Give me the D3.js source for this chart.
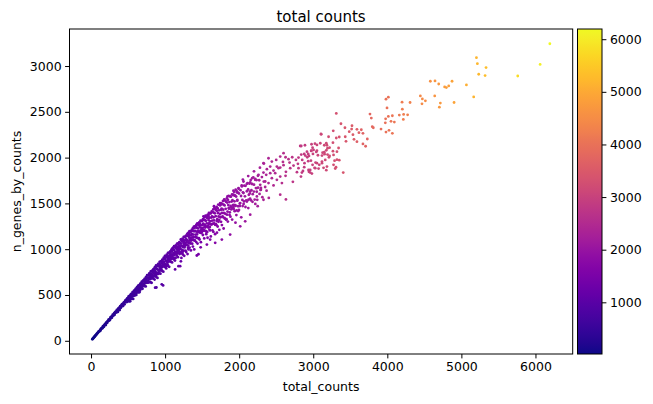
<!DOCTYPE html>
<html><head><meta charset="utf-8">
<script src="https://cdn.jsdelivr.net/npm/d3@7"></script>
<style>body{margin:0;background:#fff}svg{display:block}</style>
</head><body><svg id="c" width="653" height="404"></svg>
<script>
const title = "total counts";
const xLabel = "total_counts";
const yLabel = "n_genes_by_counts";
const xTicks = [0,1000,2000,3000,4000,5000,6000];
const yTicks = [0,500,1000,1500,2000,2500,3000];
const cbTicks = [1000,2000,3000,4000,5000,6000];

// [total_counts, n_genes_by_counts]
const cellsLow = [[18,17],[24,23],[29,27],[35,34],[41,39],[47,45],[52,50],[58,55],[64,62],[71,67],[77,74],[83,79],[89,86],[95,90],
[103,102],[109,103],[116,105],[122,118],[128,113],[135,133],[141,131],[148,142],[154,138],[161,159],[167,158],[174,152],[180,174],[187,173],[193,185],[199,172],
[204,199],[210,199],[217,195],[223,214],[229,213],[236,231],[242,221],[249,235],[255,227],[262,254],[268,246],[274,264],[281,252],[287,268],[293,284],[299,280],
[305,278],[311,298],[318,283],[324,313],[330,305],[337,319],[343,310],[349,337],[356,333],[362,315],[368,351],[375,343],[381,360],[387,335],[394,377],[399,373],[315,298],[334,315],[352,334],[371,351],[390,367],
[403,360],[408,385],[413,380],[418,401],[423,380],[428,397],[433,381],[438,415],[443,401],[448,423],[453,398],[458,420],[463,440],[468,431],[473,424],[478,449],[483,423],[488,464],[493,447],[498,463],
[502,444],[507,484],[511,471],[516,441],[520,489],[525,473],[529,493],[534,453],[538,508],[543,501],[547,482],[552,515],[556,503],[561,532],[565,499],[570,521],[574,495],[579,544],[583,520],[588,549],[592,516],[597,542]];

const cellsMid = [[601,566],[605,550],[609,538],[613,571],[617,531],[621,586],[625,560],[629,580],[633,554],[637,603],[641,585],[645,545],[649,606],[653,580],[657,608],[661,548],[665,625],[669,612],[673,583],[677,627],[681,611],[685,646],[689,603],[693,629],[697,595],
[702,656],[706,622],[710,660],[714,612],[718,646],[722,675],[726,656],[730,639],[734,679],[738,630],[742,696],[746,663],[750,687],[754,649],[758,716],[762,690],[766,634],[770,715],[774,681],[778,715],[782,640],[786,735],[790,718],[794,680],[798,734],
[802,712],[806,757],[810,700],[814,732],[818,687],[822,762],[826,721],[830,765],[834,708],[838,747],[842,781],[846,757],[850,737],[854,784],[858,721],[862,804],[866,761],[870,790],[874,747],[878,822],[882,791],[886,728],[890,819],[894,781],[898,818],
[902,729],[906,840],[910,819],[914,774],[918,837],[922,812],[926,861],[930,797],[934,833],[938,781],[942,866],[946,819],[950,869],[954,800],[958,846],[962,886],[966,857],[970,832],[974,887],[978,816],[982,908],[986,860],[990,892],[994,843],[998,927],
[1002,892],[1005,814],[1009,922],[1012,875],[1015,917],[1019,815],[1022,940],[1025,915],[1029,864],[1032,933],[1035,903],[1039,959],[1042,884],[1045,924],[1049,865],[1052,960],[1055,905],[1059,960],[1062,885],[1065,933],[1069,976],[1072,943],[1075,916],[1079,974],[1082,896],[1085,994],[1089,942],[1092,975],[1095,922],[1099,1010],
[1102,994],[1105,908],[1109,1016],[1112,958],[1115,993],[1119,936],[1122,1032],[1125,990],[1129,905],[1132,1023],[1135,971],[1139,1018],[1142,905],[1145,1042],[1149,1015],[1152,957],[1155,1033],[1159,1001],[1162,1061],[1165,978],[1169,1022],[1172,956],[1175,1060],[1179,1000],[1182,1060],[1185,978],[1189,1030],[1192,1077],[1195,1040],[1199,1011]];

const cellsHigh = [[1202,1027],[1205,1065],[1209,1002],[1212,1106],[1215,1061],[1219,968],[1222,1096],[1225,1039],[1229,1090],[1232,966],[1235,1115],[1239,1085],[1242,1022],[1245,1105],[1249,1069],[1252,1135],[1255,1044],[1259,1092],[1262,1019],[1265,1133],[1269,1067],[1272,1132],[1275,1042],[1279,1099],[1282,1149],[1285,1109],[1289,1076],[1292,1145],[1295,1051],[1299,1168],
[1302,1095],[1305,1149],[1309,1016],[1312,1177],[1315,1144],[1319,1075],[1322,1165],[1325,1126],[1329,1197],[1332,1098],[1335,1149],[1339,1071],[1342,1194],[1345,1121],[1349,1192],[1352,1094],[1355,1155],[1359,1210],[1362,1167],[1365,1130],[1369,1204],[1372,1103],[1375,1229],[1379,1160],[1382,1201],[1385,1132],[1389,1246],[1392,1196],[1395,1094],[1399,1234],
[1403,1245],[1406,1199],[1410,1160],[1414,1240],[1417,1130],[1421,1266],[1424,1191],[1428,1236],[1431,1161],[1435,1283],[1439,1230],[1442,1121],[1446,1271],[1449,1203],[1453,1262],[1456,1117],[1460,1292],[1464,1256],[1467,1181],[1471,1279],[1474,1236],[1478,1312],[1481,1206],[1485,1261],[1489,1177],[1492,1309],[1496,1231],[1499,1307],
[1503,1195],[1507,1265],[1511,1328],[1515,1278],[1519,1236],[1523,1321],[1527,1204],[1531,1349],[1534,1269],[1538,1317],[1542,1237],[1546,1367],[1550,1310],[1554,1193],[1558,1353],[1562,1281],[1565,1343],[1569,1188],[1573,1375],[1577,1336],[1581,1257],[1585,1361],[1589,1315],[1592,1396],[1596,1282],[1599,1341],
[1604,1243],[1608,1393],[1612,1304],[1616,1391],[1621,1270],[1625,1345],[1629,1412],[1633,1358],[1637,1313],[1642,1405],[1646,1279],[1650,1434],[1654,1349],[1658,1399],[1662,1314],[1667,1454],[1671,1392],[1675,1267],[1679,1438],[1683,1360],[1687,1427],[1692,1263],[1696,1461],[1699,1419],
[1704,1328],[1709,1447],[1713,1394],[1718,1487],[1722,1357],[1727,1424],[1731,1320],[1736,1482],[1740,1385],[1745,1479],[1749,1348],[1754,1430],[1758,1500],[1763,1444],[1767,1395],[1772,1493],[1776,1358],[1781,1525],[1785,1432],[1790,1487],[1794,1395],[1798,1545],
[1803,1478],[1808,1333],[1813,1530],[1818,1441],[1823,1518],[1828,1328],[1833,1556],[1838,1509],[1843,1411],[1848,1539],[1853,1482],[1858,1582],[1863,1442],[1868,1515],[1873,1403],[1878,1576],[1883,1473],[1888,1573],[1893,1434],[1898,1520],
[1904,1599],[1909,1535],[1915,1480],[1920,1590],[1926,1438],[1931,1626],[1937,1523],[1942,1584],[1948,1481],[1953,1649],[1959,1575],[1964,1423],[1970,1630],[1975,1537],[1981,1618],[1986,1417],[1992,1659],[1997,1608],
[2008,1498],[2017,1645],[2025,1581],[2034,1696],[2043,1538],[2051,1621],[2060,1494],[2069,1694],[2078,1577],[2086,1692],[2095,1533],[2104,1633],[2113,1722],[2121,1652],[2130,1594],[2139,1715],[2148,1551],[2156,1755],[2165,1645],[2174,1712],[2183,1601],[2191,1784],[2200,1705],[2209,1542],[2218,1767],[2226,1667],[2235,1755],[2244,1539],[2253,1801],[2270,1753],[2288,1647]];

// cells lying below the main ridge (fewer genes for their depth)
const cellsLowerTail = [[503,439],[512,430],[519,446],[528,431],[536,470],[544,461],[553,458],[561,485],[569,457],[578,492],[586,509],[595,497],[603,516],[611,501],[620,546],[628,530],[637,530],[645,562],[653,530],[662,569],
[670,584],[679,570],[687,591],[695,567],[704,617],[712,604],[721,597],[729,630],[738,593],[746,636],[755,655],[763,638],[771,660],[780,640],[788,693],[797,673],
[803,639],[811,682],[818,633],[826,684],[834,701],[842,678],[850,703],[858,668],[866,732],[874,711],[881,697],[889,740],[897,686],[905,741],[913,764],[921,737],[929,765],[937,733],[944,802],[952,771],[960,764],[968,814],[976,755],[984,814],[992,834],[1000,805],
[1007,833],[1015,790],[1023,865],[1031,839],[1039,822],[1047,871],[1055,807],[1063,870],[1070,895],[1078,863],[1086,894],[1094,856],[1102,937],[1110,899],[1118,890],[1126,947],[1133,876],[1141,944],[1149,966],[1157,931],[1165,964],[1173,913],[1181,999],[1189,968],[1196,947],
[1204,961],[1213,868],[1222,955],[1231,989],[1240,942],[1249,983],[1258,928],[1267,1039],[1276,983],[1285,969],[1294,1047],[1303,947],[1312,1040],[1321,1069],[1330,1017],[1339,1061],[1348,987],[1357,1105],[1366,1060],[1375,1029],[1384,1104],[1393,997],[1402,1096],[1411,1134],[1420,1078],[1429,1125],[1438,1061],[1447,1187],[1456,1122],[1465,1105],[1474,1192],[1483,1077],[1492,1182],[1501,1214],[1510,1155],[1519,1204],[1528,1118],[1537,1252],[1546,1200],[1555,1164],[1564,1248],[1573,1125],[1582,1236],[1591,1278],[1599,1214],
[1606,1205],[1617,1140],[1629,1271],[1640,1205],[1652,1189],[1663,1281],[1675,1164],[1686,1273],[1698,1307],[1709,1248],[1721,1299],[1732,1212],[1744,1352],[1755,1299],[1767,1263],[1778,1351],[1790,1226],[1801,1342],[1813,1387],[1824,1322],[1836,1377],[1847,1302],[1859,1450],[1870,1374],[1882,1355],[1893,1458],[1905,1324],[1916,1447],[1928,1485],[1939,1415],[1951,1473],[1962,1373],[1974,1530],[1985,1469],[1997,1428],
[2009,1471],[2028,1348],[2047,1471],[2066,1522],[2085,1461],[2104,1521],[2123,1449],[2142,1607],[2161,1533],[2180,1517],[2199,1629],[2218,1494],[2237,1627],[2256,1672],[2275,1604],[2294,1669],[2313,1568],[2332,1738],[2351,1679],[2370,1639]];

// isolated cells off the band
const cellsOutliers = [[865,580],[882,582],[955,616],[973,605],[1135,779],[1180,815],[1203,815],[1315,997],[1428,931],[1450,945],[1564,1051],[1608,1105],[1676,1070],[1766,1105],[1878,1160],[2014,1250],[2081,1304],[2149,1377],[1220,905],[1480,1020],[1700,1180],[1950,1290],[2250,1470],[2400,1560],
[1329,1178],[1518,1359],[1586,1377],[1743,1504],[1842,1576],[1923,1595],[1405,1250],[1660,1470],[2050,1760],[2200,1850],[2280,1890]];

const cellsSparse = [[3104,2258],[2824,2127],[2334,1935],[2122,1798],[1923,1638],[2591,1953],[2599,1917],[2631,1845],[2734,1913],[2780,1841],[2847,1837],[2959,1837],[2725,1736],[2626,1801],[2554,1595],[2631,1543],[2464,1696],[2793,1932],[2932,1961],[3027,1885],[2996,2040],[2991,2109],[3050,2076],[3126,2054],[3149,2135],[3220,2109],[3212,2004],[3274,2029],[3307,1896],[3320,1978],[3162,1975],[3118,1939],[3081,1921],[2969,1967],[2991,1921],[3031,1946],[3176,2080],[3193,2033],[2915,2065],[2892,2022],[2942,2018],[2838,2033],[2801,2000],[2766,1975],[2716,2004],[2666,1983],[2680,1946],[2626,2004],[2599,2048],[2554,2011],[2500,1975],[2531,1885],[2464,1859],[2419,1902],[2374,1874],[2419,1830],[2365,1812],[2328,1837],[2307,1787],[2261,1812],[2216,1758],[2176,1776],[2149,1728],[2104,1714],[2058,1739],[2036,1685],[1991,1667],[1969,1620],[1946,1584],[2058,1613],[2149,1630],[2239,1667],[2284,1703],[2351,1739],[2396,1722],[2239,1576],[2328,1540],[2126,1540],[2014,1504],[1923,1461],[2293,1649],[2441,1776],[2509,1758],[2554,1793],[2577,1722],[2486,1830],[2509,1902],[2328,1939],[2396,1993],[2441,1957],[2554,1891],[2689,1885],[2801,1885],[2882,1939],[2936,1866],[3050,2138],[3095,2157],[2973,2076],[3153,2037],[3274,1921],[3185,1902],
[4307,2602],[4199,2605],[4014,2660],[3982,2638],[3996,2543],[4203,2529],[4162,2464],[4220,2472],[4274,2467],[4216,2417],[4068,2457],[4014,2450],[3977,2424],[4050,2396],[4095,2388],[3973,2380],[4023,2298],[3982,2279],[4068,2265],[3766,2475],[3784,2432],[3797,2337],[3811,2326],[3915,2312],[3730,2203],[3311,2483],[3374,2370],[3523,2348],[3518,2312],[3590,2309],[3649,2304],[3617,2272],[3671,2265],[3486,2283],[3428,2326],[3536,2250],[3550,2200],[3432,2228],[3351,2225],[3442,2178],[3590,2174],[3671,2149],[3707,2124],[3311,2214],[3270,2293],[3207,2228],[3108,2254],[3176,2157],[3266,2163],[3342,2105],[3320,2065],[3266,2070],[3220,2018],[3288,1967],[3351,1972],[3405,1837],[3297,1880],[3193,2102],[3149,2059],[3185,2135],[3023,2152],[2977,2146],[2888,2135],[3004,2084],[2973,2073],[2932,2040],[3041,2062],[3063,2026],[3118,2022],[3118,1957],[3050,1939],[3018,1888],[3072,1880],[3139,1888],[3176,1863],[2959,1866],[2982,1826],[2878,1896],[2851,1975],[2878,2040],[2838,2127],[2919,2004],[2861,1855],[2834,1793],[2942,1845]];

const cellsTop = [[6194,3243],[6063,3018],[5761,2891],[5203,3091],[5216,3026],[5333,2983],[5234,2910],[5320,2896],[5166,2663],[5068,2794],[4901,2602],[4874,2834],[4829,2783],[4797,2765],[4774,2772],[4694,2804],[4644,2837],[4581,2834],[4640,2674],[4716,2595],[4703,2551],[4473,2641],[4514,2620],[4468,2587],[4446,2674]];

const cells = [].concat(cellsLow, cellsMid, cellsHigh, cellsLowerTail, cellsOutliers, cellsSparse, cellsTop).sort((a,b)=>a[0]-b[0]);

const FONT = "DejaVu Sans";
const fs = 12.5;
const plot = {x0:69.5, x1:572.7, y0:29, y1:354};
const cb = {x0:577.5, x1:602, y0:29, y1:354};

const xExt = d3.extent(cells, d => d[0]);
const yExt = d3.extent(cells, d => d[1]);
const xPad = (xExt[1]-xExt[0])*0.05, yPad = (yExt[1]-yExt[0])*0.05;
const x = d3.scaleLinear().domain([xExt[0]-xPad, xExt[1]+xPad]).range([plot.x0, plot.x1]);
const y = d3.scaleLinear().domain([yExt[0]-yPad, yExt[1]+yPad]).range([plot.y1, plot.y0]);
const color = d3.scaleSequential(d3.interpolatePlasma).domain(xExt);
const cbScale = d3.scaleLinear().domain(xExt).range([cb.y1, cb.y0]);

const svg = d3.select("#c");

svg.append("g").selectAll("circle").data(cells).join("circle")
  .attr("cx", d => x(d[0])).attr("cy", d => y(d[1])).attr("r", 1.4)
  .attr("fill", d => color(d[0]));

svg.append("rect").attr("x", plot.x0).attr("y", plot.y0)
  .attr("width", plot.x1-plot.x0).attr("height", plot.y1-plot.y0)
  .attr("fill", "none").attr("stroke", "#000").attr("stroke-width", 1);

function styleAxis(g){
  g.attr("font-family", FONT).attr("font-size", fs);
  g.select(".domain").remove();
  g.selectAll(".tick line").attr("stroke", "#000").attr("stroke-width", 1);
  g.selectAll(".tick text").attr("fill", "#000");
}

svg.append("g").attr("transform", `translate(0,${plot.y1})`)
  .call(d3.axisBottom(x).tickValues(xTicks).tickSize(4.4).tickPadding(3.5).tickFormat(d3.format("d")))
  .call(styleAxis);
svg.append("g").attr("transform", `translate(${plot.x0},0)`)
  .call(d3.axisLeft(y).tickValues(yTicks).tickSize(4.4).tickPadding(3.5).tickFormat(d3.format("d")))
  .call(styleAxis);

// colorbar
const defs = svg.append("defs");
const grad = defs.append("linearGradient").attr("id", "cbg")
  .attr("x1", 0).attr("y1", 1).attr("x2", 0).attr("y2", 0);
grad.selectAll("stop").data(d3.range(0, 1.0001, 0.02)).join("stop")
  .attr("offset", d => d).attr("stop-color", d => d3.interpolatePlasma(d));
svg.append("rect").attr("x", cb.x0).attr("y", cb.y0)
  .attr("width", cb.x1-cb.x0).attr("height", cb.y1-cb.y0)
  .attr("fill", "url(#cbg)").attr("stroke", "#000").attr("stroke-width", 1);
svg.append("g").attr("transform", `translate(${cb.x1},0)`)
  .call(d3.axisRight(cbScale).tickValues(cbTicks).tickSize(4.4).tickPadding(3.5).tickFormat(d3.format("d")))
  .call(styleAxis);

svg.append("text").attr("x", (plot.x0+plot.x1)/2).attr("y", 21.5)
  .attr("text-anchor", "middle").attr("font-family", FONT).attr("font-size", 15).text(title);
svg.append("text").attr("x", (plot.x0+plot.x1)/2).attr("y", 391)
  .attr("text-anchor", "middle").attr("font-family", FONT).attr("font-size", fs).text(xLabel);
svg.append("text").attr("transform", `translate(21,${(plot.y0+plot.y1)/2}) rotate(-90)`)
  .attr("text-anchor", "middle").attr("font-family", FONT).attr("font-size", fs).text(yLabel);
</script></body></html>
